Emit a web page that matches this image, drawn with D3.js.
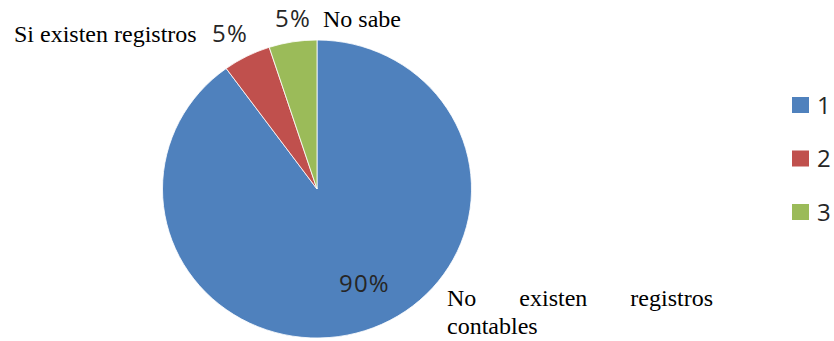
<!DOCTYPE html>
<html>
<head>
<meta charset="utf-8">
<script src="https://cdn.jsdelivr.net/npm/d3@7"></script>
<style>
  html, body { margin: 0; padding: 0; background: #ffffff; }
  svg { display: block; }
  .serif { font-family: "Liberation Serif", "Times New Roman", Times, "DejaVu Serif", "Noto Serif", serif; }
  .sans { font-family: "Open Sans", "Noto Sans", sans-serif; }
</style>
</head>
<body>
<svg id="chart" width="834" height="341"></svg>
<script>
// ---- data ----
const categories = ["No existen registros contables", "Si existen registros", "No sabe"];
const values = [90, 5, 5];
const legendLabels = ["1", "2", "3"];
const colors = ["#4F81BD", "#C0504D", "#9BBB59"];

const svg = d3.select("#chart");
const cx = 317, cy = 189, r = 149, sx = 1.037;

const pie = d3.pie().sort(null).value(d => d)(values);
const arc = d3.arc().innerRadius(0).outerRadius(r);

const g = svg.append("g").attr("transform", `translate(${cx},${cy}) scale(${sx},1)`);
g.selectAll("path").data(pie).join("path")
  .attr("d", arc)
  .attr("fill", (d, i) => colors[i])
  .attr("stroke", "#ffffff")
  .attr("stroke-width", 0.8);

const pct = d => d.value + "%";

// percentage labels
const pctPos = [[339, 292], [212, 42], [275, 27]];
svg.selectAll("text.pct").data(pie).join("text")
  .attr("class", "pct sans")
  .attr("x", (d, i) => pctPos[i][0])
  .attr("y", (d, i) => pctPos[i][1])
  .attr("font-size", 24)
  .attr("letter-spacing", 1.2)
  .attr("fill", "#262626")
  .text(pct);

// category labels
svg.append("text").attr("class", "serif").attr("x", 14).attr("y", 42)
  .attr("font-size", 24).attr("fill", "#000")
  .text(categories[1]);
svg.append("text").attr("class", "serif").attr("x", 323).attr("y", 27)
  .attr("font-size", 24).attr("fill", "#000")
  .text(categories[2]);

// justified two-line label for the 90% slice
const words = categories[0].split(" ");
const line1 = words.slice(0, 3), line2 = words.slice(3);
const l1x0 = 447, l1x1 = 713;
const t1 = svg.append("g");
const tmp = line1.map(w => t1.append("text").attr("class", "serif").attr("font-size", 24).attr("y", 306).attr("fill", "#000").text(w));
const widths = tmp.map(t => t.node().getComputedTextLength());
const gap = (l1x1 - l1x0 - d3.sum(widths)) / (line1.length - 1);
let xx = l1x0;
tmp.forEach((t, i) => { t.attr("x", xx); xx += widths[i] + gap; });
svg.append("text").attr("class", "serif").attr("x", 447).attr("y", 334)
  .attr("font-size", 24).attr("fill", "#000")
  .text(line2.join(" "));

// legend
const leg = svg.append("g");
const ly = d3.scalePoint().domain(legendLabels).range([105, 212]);
const items = leg.selectAll("g").data(legendLabels).join("g")
  .attr("transform", d => `translate(792,${ly(d)})`);
items.append("rect").attr("x", 0).attr("y", -8).attr("width", 17).attr("height", 16)
  .attr("fill", (d, i) => colors[i]);
items.append("text").attr("class", "sans").attr("x", 25).attr("y", 8.5)
  .attr("font-size", 24).attr("fill", "#262626")
  .text(d => d);
</script>
</body>
</html>
